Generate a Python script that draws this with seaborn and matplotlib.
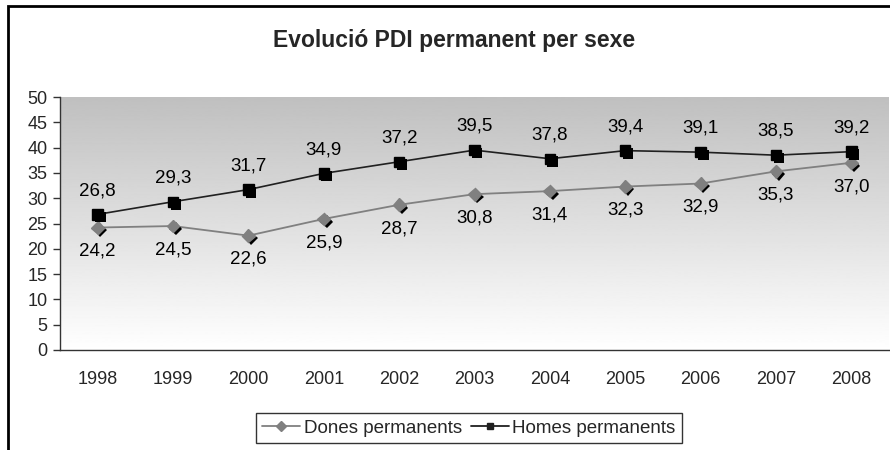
import matplotlib

matplotlib.use("Agg")
import matplotlib.patheffects as pe
import matplotlib.pyplot as plt
import numpy as np
import pandas as pd
import seaborn as sns

# データ
years = ["1998", "1999", "2000", "2001", "2002", "2003", "2004", "2005", "2006", "2007", "2008"]
dones = [24.2, 24.5, 22.6, 25.9, 28.7, 30.8, 31.4, 32.3, 32.9, 35.3, 37.0]
homes = [26.8, 29.3, 31.7, 34.9, 37.2, 39.5, 37.8, 39.4, 39.1, 38.5, 39.2]
title = "Evolució PDI permanent per sexe"
label_dones = "Dones permanents"
label_homes = "Homes permanents"
y_ticks = list(range(0, 51, 5))

sns.set_theme(style="white")
plt.rcParams["font.family"] = ["Liberation Sans", "DejaVu Sans"]

df = pd.DataFrame({"year": years, "dones": dones, "homes": homes})

fig = plt.figure(figsize=(8.9, 4.5), dpi=100)
ax = fig.add_axes([60 / 890, 100 / 450, 829 / 890, 253 / 450])

# 背景のグラデーション
grad = np.linspace(0.75, 1.0, 256).reshape(-1, 1)
ax.imshow(grad, cmap="gray", vmin=0, vmax=1, aspect="auto", extent=[0, 1, 0, 1],
          transform=ax.transAxes, zorder=0)

shadow = [pe.SimplePatchShadow(offset=(2, -2), shadow_rgbFace="black", alpha=1.0), pe.Normal()]

# 折れ線
sns.lineplot(data=df, x="year", y="dones", ax=ax, color="#808080", lw=1.3, sort=False, zorder=2)
sns.lineplot(data=df, x="year", y="homes", ax=ax, color="#202020", lw=1.2, sort=False, zorder=2)
ax.plot(df["year"], df["dones"], ls="none", marker="D", ms=6.5, color="#808080",
        path_effects=shadow, zorder=3)
ax.plot(df["year"], df["homes"], ls="none", marker="s", ms=7.5, color="black",
        path_effects=shadow, zorder=3)

# 値ラベル
for i, (d, h) in enumerate(zip(dones, homes)):
    ax.annotate(f"{h:.1f}".replace(".", ","), (i, h), xytext=(0, 11), textcoords="offset points",
                ha="center", va="bottom", fontsize=13.5, color="black", zorder=4)
    ax.annotate(f"{d:.1f}".replace(".", ","), (i, d), xytext=(0, -11), textcoords="offset points",
                ha="center", va="top", fontsize=13.5, color="black", zorder=4)

ax.set_xlim(-0.5, len(years) - 0.5)
ax.set_ylim(0, 50)
ax.set_yticks(y_ticks)
ax.set_yticklabels([str(v) for v in y_ticks], fontsize=13)
ax.set_xticks(range(len(years)))
ax.set_xticklabels(years, fontsize=13)
ax.set_xticks(np.arange(-0.5, len(years), 1.0), minor=True)
ax.tick_params(axis="x", which="major", length=0, pad=15)
ax.tick_params(axis="x", which="minor", length=5, width=1, color="#333333", direction="out")
ax.tick_params(axis="y", length=5, width=1, color="#333333", direction="out", pad=4, left=True)
ax.set_xlabel("")
ax.set_ylabel("")
for side in ["top", "right"]:
    ax.spines[side].set_visible(False)
for side in ["left", "bottom"]:
    ax.spines[side].set_color("#333333")
    ax.spines[side].set_linewidth(1)

fig.text(454 / 890, 1 - 40 / 450, title, ha="center", va="center", fontsize=16.5, fontweight="bold")

# 凡例
handles = [
    plt.Line2D([], [], color="#808080", marker="D", ms=5, lw=1.3),
    plt.Line2D([], [], color="#202020", marker="s", ms=5, lw=1.3),
]
leg = fig.legend(handles, [label_dones, label_homes], loc="center", bbox_to_anchor=(469 / 890, 1 - 428 / 450),
                 ncol=2, frameon=True, fancybox=False, fontsize=13.5, handlelength=2.0,
                 handletextpad=0.2, columnspacing=0.5, borderpad=0.35)
leg.get_frame().set_edgecolor("black")
leg.get_frame().set_linewidth(1)

# 外枠
fig.add_artist(plt.Rectangle((8 / 890, -0.1), 1.0, 1 - 6 / 450 + 0.1, transform=fig.transFigure,
                             fill=False, edgecolor="black", lw=2))

fig.savefig("out.png", dpi=100)
